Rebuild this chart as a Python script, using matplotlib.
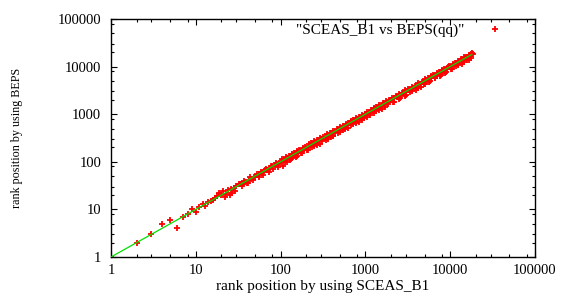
import matplotlib
matplotlib.use("Agg")
import matplotlib.pyplot as plt
from matplotlib.ticker import LogLocator, NullFormatter, FixedLocator

# rank pairs (SCEAS_B1 rank, BEPS rank)
x_rank = [1, 2, 3, 4, 5, 6, 7, 8, 9, 10, 11, 12, 13, 14, 15, 16, 17, 18, 19, 20,
          21, 22, 23, 24, 25, 26, 27, 28, 29, 30, 32, 34, 36, 38, 40, 42, 45, 48,
          50, 55, 60, 65, 70, 75, 80, 85, 90, 95, 100, 110, 120, 130, 140, 150,
          160, 170, 180, 190, 200, 220, 240, 260, 280, 300, 330, 360, 400, 440,
          480, 520, 560, 600, 650, 700, 750, 800, 870, 950, 1000, 1100, 1200,
          1300, 1400, 1500, 1650, 1800, 2000, 2200, 2400, 2600, 2800, 3000, 3300,
          3600, 4000, 4400, 4800, 5200, 5600, 6000, 6500, 7000, 7500, 8000, 8600,
          9200, 10000, 11000, 12000, 13000, 14000, 15000, 16000, 17000, 18000, 18500,
          # points above the diagonal
          33, 37, 44, 52, 58, 68, 78, 88, 105, 125, 145, 165, 195, 230, 270, 320,
          380, 460, 540, 630, 720, 830, 980, 1150, 1350, 1600, 1900, 2300, 2700,
          3200, 3800, 4600, 5400, 6300, 7300, 8400, 9700, 11500, 13500, 15500, 17500,
          115, 135, 155, 185, 215, 250, 290, 350, 420, 500, 590, 680, 780, 900,
          1050, 1250, 1450, 1750, 2050, 2500, 2950, 3500, 4200, 5000, 5900, 6900,
          8000, 9300, 10700, 12500, 14500, 16500, 18200,
          # points below the diagonal
          35, 41, 47, 56, 62, 72, 82, 92, 108, 118, 128, 138, 155, 175, 210, 250,
          290, 340, 390, 420, 500, 580, 680, 780, 900, 1050, 1250, 1450, 1700,
          2100, 2500, 2900, 3400, 3900, 4500, 5000, 5800, 6700, 7700, 8800, 10500,
          12500, 14500, 16500,
          112, 132, 152, 178, 205, 235, 270, 310, 360, 410, 470, 540, 620, 720,
          830, 960, 1120, 1320, 1550, 1850, 2150, 2550, 3000, 3550, 4150, 4900,
          5700, 6600, 7600, 8900, 10300, 11800, 13700, 15800, 17800]
y_rank = [1, 2, 3, 5, 6, 4, 7, 8, 10, 9, 11, 13, 12, 14, 15, 16, 17, 19, 22, 20,
          24, 18, 21, 25, 20, 27, 22, 28, 24, 31, 34, 35, 34, 38, 36, 42, 44, 49,
          47, 55, 57, 66, 68, 73, 82, 84, 88, 94, 100, 108, 115, 131, 136, 148,
          157, 170, 172, 188, 198, 210, 238, 250, 277, 296, 325, 340, 396, 430,
          470, 515, 545, 590, 640, 690, 730, 790, 850, 930, 990, 1070, 1180,
          1270, 1380, 1450, 1620, 1760, 1950, 2150, 2350, 2550, 2750, 2950, 3200,
          3500, 3900, 4300, 4700, 5100, 5500, 5850, 6400, 6850, 7350, 7850, 8450,
          9000, 9800, 10800, 11800, 12800, 13800, 14800, 15900, 16900, 18000, 18700,
          35, 39, 47, 55, 62, 72, 83, 94, 112, 133, 154, 175, 207, 244, 286, 339,
          402, 486, 571, 665, 760, 876, 1034, 1213, 1424, 1686, 2002, 2423, 2843,
          3366, 3996, 4836, 5674, 6612, 7660, 8810, 10170, 12050, 14140, 16230, 18300,
          124, 145, 167, 199, 231, 269, 312, 376, 452, 537, 634, 731, 838, 968,
          1128, 1343, 1558, 1880, 2203, 2686, 3170, 3760, 4513, 5373, 6340, 7414,
          8596, 9993, 11500, 13430, 15580, 17730, 19550,
          31, 36, 41, 49, 53, 62, 70, 78, 80, 101, 110, 118, 130, 150, 180, 213,
          235, 290, 335, 350, 430, 490, 580, 660, 760, 890, 1060, 1230, 1440,
          1780, 2120, 2460, 2880, 3300, 3810, 4240, 4920, 5690, 6540, 7470, 8920,
          10620, 12320, 14020,
          98, 116, 128, 150, 178, 200, 228, 268, 302, 352, 395, 465, 523, 625,
          700, 832, 950, 1140, 1310, 1600, 1820, 2200, 2540, 3070, 3510, 4240,
          4830, 5700, 6440, 7690, 8730, 10200, 11610, 13650, 15100]

# reference line y = x
line_x = [1, 18000]
line_y = [1, 18000]

legend_label = '"SCEAS_B1 vs BEPS(qq)"'
x_title = "rank position by using SCEAS_B1"
y_title = "rank position by using BEPS"
tick_values = [1, 10, 100, 1000, 10000, 100000]
tick_labels = ["1", "10", "100", "1000", "10000", "100000"]

plt.rcParams['font.family'] = ['Liberation Serif', 'DejaVu Serif']

fig = plt.figure(figsize=(5.61, 2.97), dpi=100)
ax = fig.add_axes([111/561, 40/297, (535-111)/561, (257-19)/297])

ax.plot(x_rank, y_rank, linestyle='none', marker='+', color='#ff0000',
        markersize=5, markeredgewidth=1.3, label=legend_label, zorder=2)
ax.plot(line_x, line_y, color='#00e000', linewidth=0.9, zorder=3)

ax.set_xscale('log')
ax.set_yscale('log')
ax.set_xlim(1, 100000)
ax.set_ylim(1, 100000)

for axis in (ax.xaxis, ax.yaxis):
    axis.set_major_locator(FixedLocator(tick_values))
    axis.set_minor_locator(LogLocator(base=10, subs=(2, 3, 5, 8)))
    axis.set_minor_formatter(NullFormatter())
ax.set_xticklabels(tick_labels)
ax.set_yticklabels(tick_labels)

ax.tick_params(which='both', direction='in', top=True, right=True, width=0.8,
               labelsize=10.5, color='black')
ax.tick_params(which='major', length=4.5, pad=5)
ax.tick_params(axis='y', which='major', pad=7)
ax.tick_params(which='minor', length=2.5)
for s in ax.spines.values():
    s.set_linewidth(1.0)

ax.set_xlabel(x_title, fontsize=11, labelpad=2)
ax.set_ylabel(y_title, fontsize=8.7)
ax.yaxis.set_label_coords(-0.208, 0.50)

leg = ax.legend(loc='upper right', frameon=False, fontsize=11, markerfirst=False,
                handlelength=1.0, borderaxespad=0.0, handletextpad=1.55,
                bbox_to_anchor=(0.939, 1.008))

fig.savefig("out.png", dpi=100)
